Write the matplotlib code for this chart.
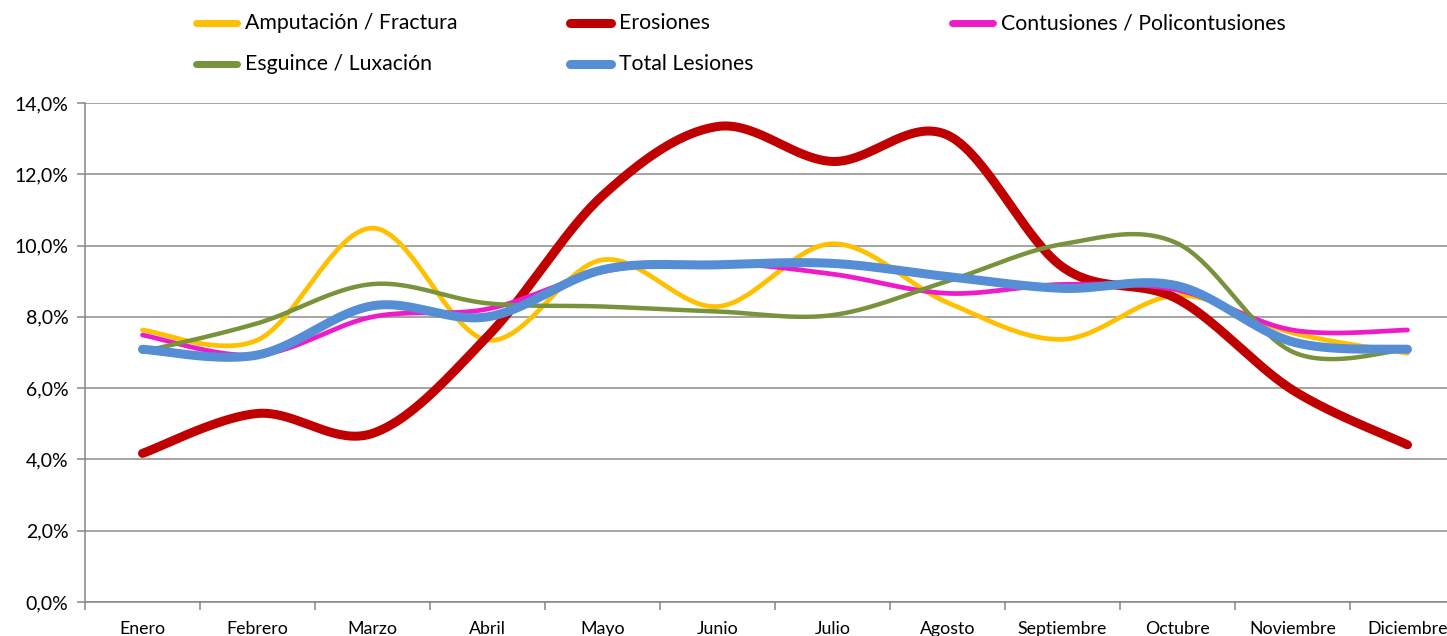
import numpy as np
import matplotlib.pyplot as plt
from matplotlib.lines import Line2D
from matplotlib.ticker import FuncFormatter

months = ["Enero", "Febrero", "Marzo", "Abril", "Mayo", "Junio", "Julio",
          "Agosto", "Septiembre", "Octubre", "Noviembre", "Diciembre"]

amputacion = [7.63, 7.35, 10.49, 7.35, 9.60, 8.29, 10.05, 8.40, 7.37, 8.60, 7.55, 6.98]
erosiones = [4.17, 5.29, 4.73, 7.45, 11.40, 13.34, 12.36, 13.10, 9.40, 8.50, 5.95, 4.41]
contusiones = [7.49, 6.93, 8.00, 8.22, 9.27, 9.50, 9.20, 8.66, 8.91, 8.75, 7.63, 7.63]
esguince = [7.02, 7.82, 8.92, 8.38, 8.29, 8.15, 8.05, 9.00, 10.04, 10.06, 7.02, 7.09]
total = [7.09, 6.93, 8.31, 8.00, 9.32, 9.46, 9.50, 9.13, 8.80, 8.87, 7.30, 7.09]

series = [
    ("Amputación / Fractura", amputacion, "#FFC000", 3.4),
    ("Erosiones", erosiones, "#C00000", 6.5),
    ("Contusiones / Policontusiones", contusiones, "#EE1CC8", 3.4),
    ("Esguince / Luxación", esguince, "#77933C", 3.2),
    ("Total Lesiones", total, "#558ED5", 6.5),
]

FONT = "Lato"


def smooth(y, steps=40):
    # Excel-like smoothed line (Catmull-Rom through the points)
    y = np.asarray(y, dtype=float)
    x = np.arange(len(y), dtype=float)
    px = np.concatenate([[x[0]], x, [x[-1]]])
    py = np.concatenate([[y[0]], y, [y[-1]]])
    out_x, out_y = [], []
    t = np.linspace(0, 1, steps)
    for i in range(1, len(px) - 2):
        p0x, p1x, p2x, p3x = px[i - 1], px[i], px[i + 1], px[i + 2]
        p0y, p1y, p2y, p3y = py[i - 1], py[i], py[i + 1], py[i + 2]
        c1x, c1y = p1x + (p2x - p0x) / 6, p1y + (p2y - p0y) / 6
        c2x, c2y = p2x - (p3x - p1x) / 6, p2y - (p3y - p1y) / 6
        bx = (1 - t) ** 3 * p1x + 3 * (1 - t) ** 2 * t * c1x + 3 * (1 - t) * t ** 2 * c2x + t ** 3 * p2x
        by = (1 - t) ** 3 * p1y + 3 * (1 - t) ** 2 * t * c1y + 3 * (1 - t) * t ** 2 * c2y + t ** 3 * p2y
        out_x.extend(bx)
        out_y.extend(by)
    return np.array(out_x), np.array(out_y)


W, H = 1447, 636
fig = plt.figure(figsize=(W / 100, H / 100), dpi=100)
ax = fig.add_axes([85 / W, 34 / H, 1380 / W, 499 / H])

for name, vals, color, lw in series:
    sx, sy = smooth(vals)
    ax.plot(sx, sy, color=color, lw=lw, solid_capstyle="round", solid_joinstyle="round")

ax.set_xlim(-0.5, 11.5)
ax.set_ylim(0, 14)
ax.set_yticks(np.arange(0, 15, 2))
ax.yaxis.set_major_formatter(FuncFormatter(lambda v, p: f"{v:.1f}%".replace(".", ",")))
ax.grid(axis="y", color="#8C8C8C", lw=1.1)
ax.set_axisbelow(True)

ax.set_xticks(range(len(months)))
ax.set_xticklabels(months)
ax.set_xticks(np.arange(-0.5, 12, 1), minor=True)
ax.tick_params(axis="x", which="major", length=0, pad=14, labelsize=12.8, labelcolor="#000000")
ax.tick_params(axis="x", which="minor", length=6, color="#868686", width=1.1)
ax.tick_params(axis="y", length=6, color="#868686", width=1.1, pad=6, labelsize=14, labelcolor="#000000")
for lab in ax.get_xticklabels() + ax.get_yticklabels():
    lab.set_fontfamily(FONT)

for s in ["top", "right"]:
    ax.spines[s].set_visible(False)
for s in ["left", "bottom"]:
    ax.spines[s].set_color("#868686")
    ax.spines[s].set_linewidth(1.1)

# legend, laid out like the Excel one (two rows)
legend_pos = [(193, 23), (567, 23), (949, 23), (193, 64), (567, 64)]
for (name, vals, color, lw), (lx, ly) in zip(series, legend_pos):
    yy = 1 - ly / H
    fig.add_artist(Line2D([(lx + 3) / W, (lx + 44) / W], [yy, yy], transform=fig.transFigure,
                          color=color, lw=max(lw, 5), solid_capstyle="round"))
    fig.text((lx + 52) / W, yy, name, ha="left", va="center", fontsize=15.3,
             family=FONT, color="#000000")

fig.savefig("out.png", dpi=100)
